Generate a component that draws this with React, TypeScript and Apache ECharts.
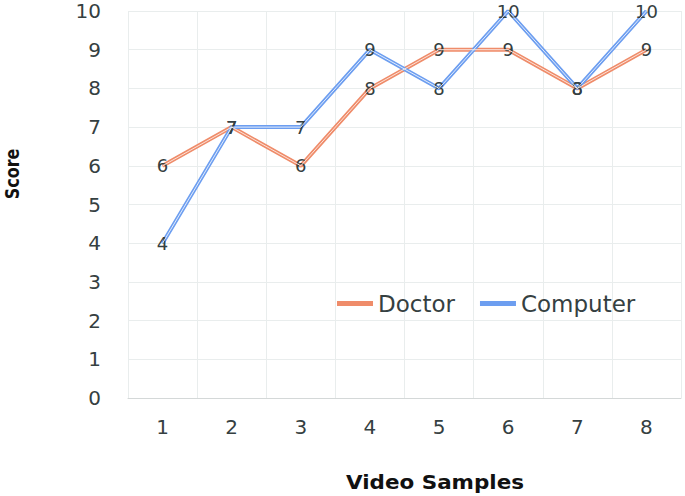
import React, { useEffect, useRef } from "react";
import * as echarts from "echarts";

const categories = ["1", "2", "3", "4", "5", "6", "7", "8"];
const doctor = [6, 7, 6, 8, 9, 9, 8, 9];
const computer = [4, 7, 7, 9, 8, 10, 8, 10];
const seriesNames = ["Doctor", "Computer"];

export default function App() {
  const ref = useRef<HTMLDivElement>(null);
  useEffect(() => {
    const chart = echarts.init(ref.current!, null, { renderer: "svg" });
    const font = "DejaVu Sans";
    const txt = "#354041";
    const mk = (name: string, data: number[], color: string, inner: string) => [
      {
        name,
        type: "line",
        data,
        symbol: "circle",
        symbolSize: 1,
        itemStyle: { color },
        lineStyle: { color, width: 4 },
        label: {
          show: true,
          position: "inside",
          color: txt,
          fontFamily: font,
          fontSize: 18,
        },
        z: 2,
      },
      {
        name: name + " ",
        type: "line",
        data,
        symbol: "none",
        lineStyle: { color: inner, width: 1 },
        silent: true,
        z: 3,
      },
    ];
    chart.setOption({
      animation: false,
      backgroundColor: "#ffffff",
      grid: { left: 128, right: 4, top: 11, bottom: 98 },
      legend: {
        data: seriesNames,
        left: 332,
        top: 287,
        itemWidth: 36,
        itemHeight: 5,
        itemGap: 25,
        icon: "rect",
        textStyle: { fontFamily: font, fontSize: 23, color: txt },
      },
      xAxis: {
        type: "category",
        data: categories,
        boundaryGap: true,
        axisLine: { lineStyle: { color: "#d4d8d8" } },
        axisTick: { show: false },
        splitLine: { show: true, lineStyle: { color: "#e9eded" } },
        axisLabel: { fontFamily: font, fontSize: 20, color: txt, margin: 19 },
      },
      yAxis: {
        type: "value",
        min: 0,
        max: 10,
        interval: 1,
        axisLine: { show: false },
        axisTick: { show: false },
        splitLine: { lineStyle: { color: "#e9eded" } },
        axisLabel: { fontFamily: font, fontSize: 20, color: txt, margin: 27 },
      },
      graphic: [
        {
          type: "text",
          x: 12,
          y: 174,
          rotation: Math.PI / 2,
          scaleX: 0.8,
          style: {
            text: "Score",
            fontFamily: font,
            fontWeight: "bold",
            fontSize: 20,
            fill: "#111",
            align: "center",
            verticalAlign: "middle",
          },
        },
        {
          type: "text",
          x: 435,
          y: 482,
          scaleX: 1.13,
          style: {
            text: "Video Samples",
            fontFamily: font,
            fontWeight: "bold",
            fontSize: 19,
            fill: "#111",
            align: "center",
            verticalAlign: "middle",
          },
        },
      ],
      series: [
        ...mk(seriesNames[0], doctor, "#ef8c6a", "#fbe3da"),
        ...mk(seriesNames[1], computer, "#6d9ef0", "#e3edfc"),
      ],
    });
    return () => chart.dispose();
  }, []);
  return <div ref={ref} style={{ width: 685, height: 496, position: "absolute", left: 0, top: 0 }} />;
}
